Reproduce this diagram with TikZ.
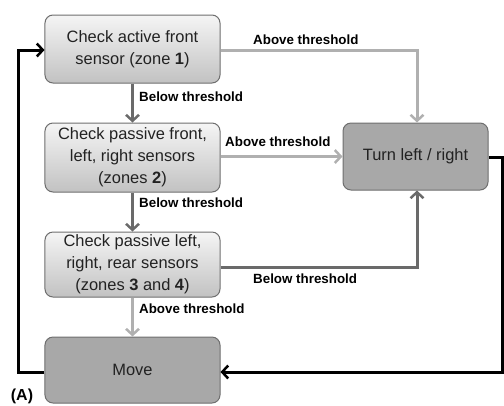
\documentclass[tikz,border=0pt]{standalone}
\usepackage{fontspec}
\setmainfont{Liberation Sans}
\usetikzlibrary{arrows.meta}
\definecolor{lightline}{HTML}{B0B0B0}
\definecolor{darkline}{HTML}{6A6A6A}
\definecolor{boxborder}{HTML}{6E6E6E}
\definecolor{darkfill}{HTML}{A8A8A8}
\definecolor{txt}{HTML}{222222}
\tikzset{
  checkbox/.style={draw=boxborder, line width=1bp, rounded corners=8bp,
    top color=white!96!black, bottom color=white!76!black,
    minimum width=175bp, align=center, text=txt,
    font=\fontsize{16.5}{22}\selectfont, inner sep=0pt},
  actbox/.style={draw=boxborder, line width=1bp, rounded corners=8bp,
    fill=darkfill, align=center, text=txt,
    font=\fontsize{16.5}{22}\selectfont, inner sep=0pt},
  lbl/.style={font=\bfseries\fontsize{13.4}{15}\selectfont, inner sep=0pt, anchor=west},
  tip/.style={-{Straight Barb[length=6bp,width=13bp,line width=2.5bp]}},
  lightarrow/.style={tip, draw=lightline, line width=3bp},
  darkarrow/.style={tip, draw=darkline, line width=3bp},
  blackarrow/.style={tip, draw=black, line width=3bp},
}
\begin{document}
\begin{tikzpicture}[x=1bp, y=-1bp]
\useasboundingbox (0,0) rectangle (504,405);
\node[checkbox, minimum height=68bp] (b1) at (132.5,49) {Check active front\\sensor (zone \textbf{1})};
\node[checkbox, minimum height=69bp] (b2) at (132.5,157.5) {Check passive front,\\left, right sensors\\(zones \textbf{2})};
\node[checkbox, minimum height=65bp] (b3) at (132.5,264.5) {Check passive left,\\right, rear sensors\\(zones \textbf{3} and \textbf{4})};
\node[actbox, minimum width=175bp, minimum height=66bp] (mv) at (132.5,370) {Move};
\node[actbox, minimum width=145bp, minimum height=67bp] (tr) at (415.5,156.5) {Turn left / right};

\coordinate (c1) at (417,50);
\coordinate (c3) at (417,267);
\coordinate (r1) at (502,157);
\coordinate (r2) at (502,372);
\coordinate (l1) at (18,372);
\coordinate (l2) at (18,50);

\draw[darkarrow] (b1.south) -- (b2.north);
\draw[darkarrow] (b2.south) -- (b3.north);
\draw[lightarrow] (b3.south) -- (mv.north);
\draw[lightarrow] (b1.east |- c1) -- (c1) -- (tr.north -| c1);
\draw[lightarrow] (b2.east |- tr.west) -- (tr.west);
\draw[darkarrow] (b3.east |- c3) -- (c3) -- (tr.south -| c3);
\draw[blackarrow] (tr.east |- r1) -- (r1) -- (r2) -- (mv.east |- r2);
\draw[blackarrow] (mv.west |- l1) -- (l1) -- (l2) -- (b1.west |- l2);

\node[lbl] (t1) at (253,40) {Above threshold};
\node[lbl] (t2) at (225,142) {Above threshold};
\node[lbl] (t3) at (253,279) {Below threshold};
\node[lbl] (t4) at (139,97) {Below threshold};
\node[lbl] (t5) at (139,203) {Below threshold};
\node[lbl] (t6) at (139,309) {Above threshold};
\node[font=\bfseries\fontsize{16}{18}\selectfont, inner sep=0pt] (A) at (22,396) {(A)};
\end{tikzpicture}
\end{document}
